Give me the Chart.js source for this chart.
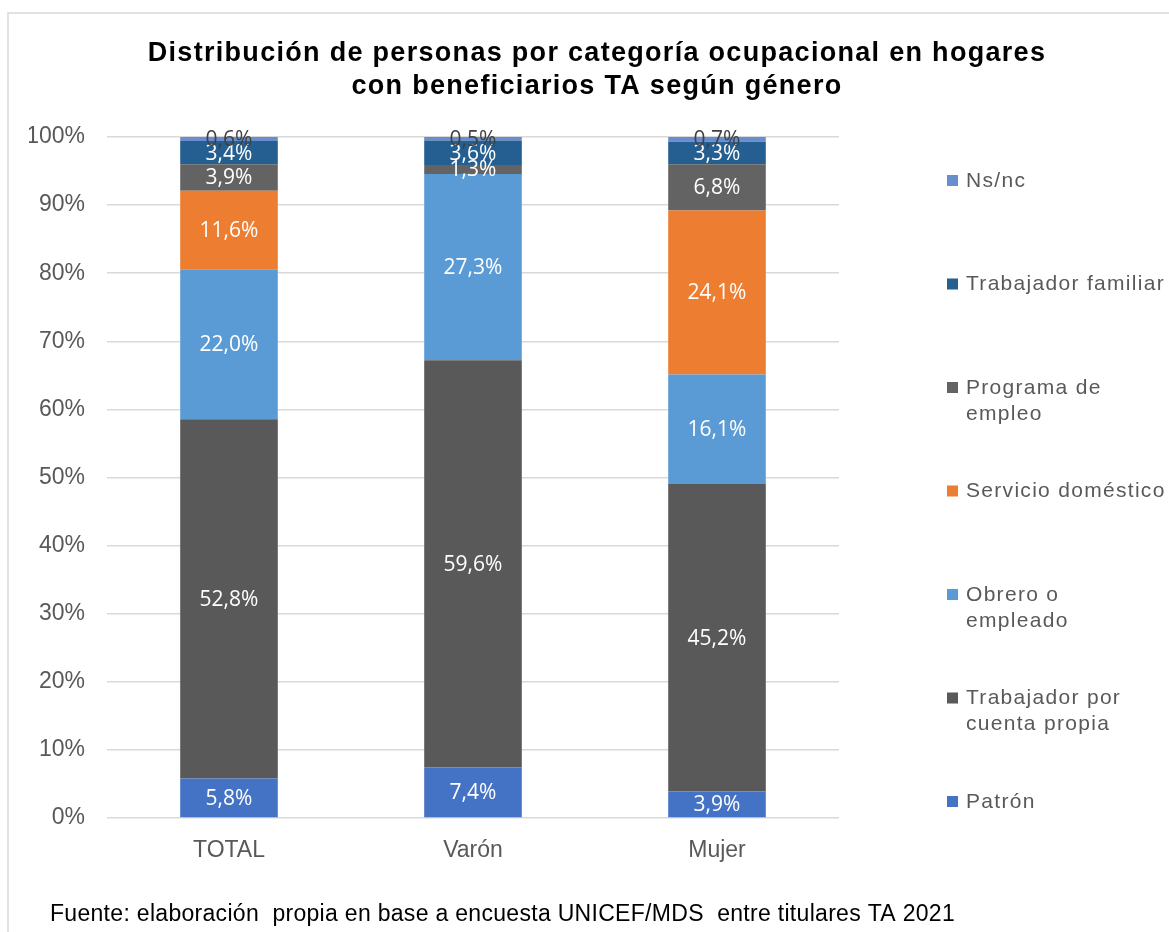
<!DOCTYPE html>
<html>
<head>
<meta charset="utf-8">
<script src="https://cdn.jsdelivr.net/npm/chart.js@4.4.1/dist/chart.umd.min.js"></script>
<style>
  html, body { margin: 0; padding: 0; background: #fff; }
</style>
</head>
<body>
<canvas id="grafico" width="1169" height="932"></canvas>
<script>
// Datos del gráfico
const categories = ['TOTAL', 'Varón', 'Mujer'];
const seriesNames = ['Patrón', 'Trabajador por cuenta propia', 'Obrero o empleado', 'Servicio doméstico', 'Programa de empleo', 'Trabajador familiar', 'Ns/nc'];
const legendLines = [['Patrón'], ['Trabajador por', 'cuenta propia'], ['Obrero o', 'empleado'], ['Servicio doméstico'], ['Programa de', 'empleo'], ['Trabajador familiar'], ['Ns/nc']];
const patron = [5.8, 7.4, 3.9];
const cuentaPropia = [52.8, 59.6, 45.2];
const obrero = [22.0, 27.3, 16.1];
const servicio = [11.6, 0, 24.1];
const programa = [3.9, 1.3, 6.8];
const familiar = [3.4, 3.6, 3.3];
const nsnc = [0.6, 0.5, 0.7];
const yTicks = [0, 10, 20, 30, 40, 50, 60, 70, 80, 90, 100];
const colors = ['#4472C4', '#595959', '#5B9BD5', '#ED7D31', '#636363', '#255E91', '#698ED0'];

const titleLines = ['Distribución de personas por categoría ocupacional en hogares', 'con beneficiarios TA según género'];
const fuente = 'Fuente: elaboración  propia en base a encuesta UNICEF/MDS  entre titulares TA 2021';

const series = [patron, cuentaPropia, obrero, servicio, programa, familiar, nsnc];
// 100% apilado: cada barra se normaliza a su total
const totals = categories.map((c, i) => series.reduce((s, arr) => s + arr[i], 0));

const datasets = series.map((arr, k) => ({
  label: seriesNames[k],
  data: arr.map((v, i) => v / totals[i] * 100),
  raw: arr,
  backgroundColor: colors[k],
  borderWidth: 0
}));

const fmt = v => v.toFixed(1).replace('.', ',') + '%';

const decor = {
  id: 'decor',
  beforeDraw(chart) {
    const ctx = chart.ctx;
    ctx.save();
    ctx.fillStyle = '#fff';
    ctx.fillRect(0, 0, chart.width, chart.height);
    ctx.strokeStyle = '#d9d9d9';
    ctx.lineWidth = 1.5;
    ctx.beginPath();
    ctx.moveTo(8, chart.height);
    ctx.lineTo(8, 13);
    ctx.lineTo(chart.width, 13);
    ctx.stroke();
    ctx.restore();
  },
  afterDatasetsDraw(chart) {
    const ctx = chart.ctx;
    ctx.save();
    ctx.font = '21px "Open Sans"';
    ctx.textAlign = 'center';
    ctx.textBaseline = 'middle';
    chart.data.datasets.forEach((ds, k) => {
      chart.getDatasetMeta(k).data.forEach((bar, i) => {
        const v = ds.raw[i];
        if (!v) return;
        ctx.fillStyle = k === 6 ? '#404040' : '#ffffff';
        ctx.fillText(fmt(v), bar.x, (bar.y + bar.base) / 2 + 1);
      });
    });
    ctx.restore();
  },
  afterDraw(chart) {
    const ctx = chart.ctx;
    ctx.save();
    // título
    ctx.fillStyle = '#000';
    ctx.font = 'bold 27px "Liberation Sans"';
    ctx.letterSpacing = '1.3px';
    ctx.textAlign = 'center';
    ctx.textBaseline = 'middle';
    ctx.fillText(titleLines[0], 597, 54);
    ctx.fillText(titleLines[1], 597, 87);
    // leyenda (orden inverso)
    ctx.textAlign = 'left';
    ctx.font = '21px "Liberation Sans"';
    ctx.letterSpacing = '1.3px';
    const step = (802 - 181) / 6;
    for (let j = 0; j < 7; j++) {
      const k = 6 - j;
      const y = 181 + j * step;
      ctx.fillStyle = colors[k];
      ctx.fillRect(947, y - 6, 11, 11);
      ctx.fillStyle = '#595959';
      legendLines[k].forEach((line, n) => ctx.fillText(line, 966, y + n * 26));
    }
    // fuente
    ctx.letterSpacing = '0.3px';
    ctx.fillStyle = '#000';
    ctx.font = '23px "Liberation Sans"';
    ctx.fillText(fuente, 50, 915);
    ctx.restore();
  }
};

const ctx = document.getElementById('grafico').getContext('2d');
const grafico = new Chart(ctx, {
  type: 'bar',
  data: { labels: categories, datasets: datasets },
  plugins: [decor],
  options: {
    responsive: false,
    animation: false,
    layout: { padding: { left: 29, right: 330, top: 137, bottom: 70 } },
    datasets: { bar: { categoryPercentage: 0.4, barPercentage: 1 } },
    plugins: { legend: { display: false }, tooltip: { enabled: false }, title: { display: false } },
    scales: {
      x: {
        stacked: true,
        grid: { display: false },
        border: { display: false },
        ticks: { color: '#595959', font: { family: 'Liberation Sans', size: 23 }, padding: 11 },
        afterFit: s => { s.height = 44; }
      },
      y: {
        stacked: true,
        min: 0,
        max: 100,
        afterBuildTicks: s => { s.ticks = yTicks.map(v => ({ value: v })); },
        grid: { color: '#d9d9d9', lineWidth: 1.5, drawTicks: false },
        border: { display: false },
        ticks: { color: '#595959', font: { family: 'Liberation Sans', size: 23 }, padding: 22, callback: v => v + '%' },
        afterFit: s => { s.width = 78; }
      }
    }
  }
});
</script>
</body>
</html>
